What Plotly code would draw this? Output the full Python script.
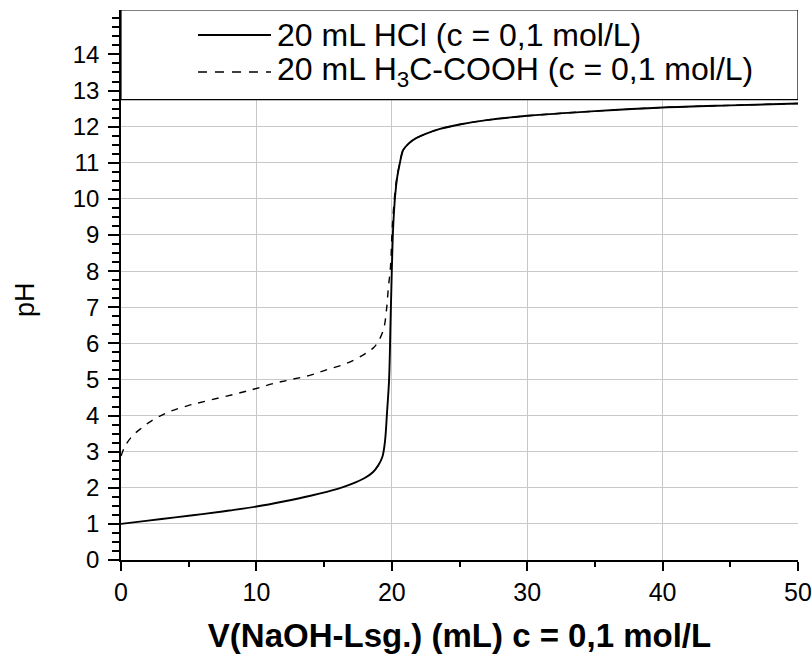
import plotly.graph_objects as go

# HCl titration (solid)
hcl_v = [0, 2, 4, 6, 8, 10, 12, 14, 16, 17, 18, 18.6, 19.0, 19.3, 19.5, 19.65, 19.8, 19.9,
         20.0, 20.1, 20.25, 20.4, 20.6, 20.85, 21.3, 21.8, 22.5, 23.5, 25, 27, 30, 35, 40, 45, 50]
hcl_ph = [1.0, 1.09, 1.18, 1.27, 1.37, 1.48, 1.62, 1.78, 1.97, 2.1, 2.27, 2.43, 2.62, 2.85, 3.3, 4.1,
          5.0, 6.5, 8.0, 9.2, 10.1, 10.6, 11.0, 11.36, 11.55, 11.68, 11.8, 11.93, 12.06, 12.18,
          12.3, 12.43, 12.53, 12.59, 12.64]

# Acetic acid titration (dashed)
ac_v = [0, 0.3, 0.8, 1.5, 2.2, 3.4, 4.9, 6.6, 8.8, 10, 11.3, 12.6, 14, 15.3, 16.7, 17.9, 18.6,
        19.0, 19.4, 19.6, 19.75, 19.9, 20.05, 20.3, 20.6, 20.85, 21.3, 21.8, 22.5, 23.5, 25, 27,
        30, 35, 40, 45, 50]
ac_ph = [2.88, 3.15, 3.42, 3.65, 3.84, 4.08, 4.27, 4.43, 4.63, 4.75, 4.89, 5.0, 5.12, 5.28, 5.45,
         5.68, 5.86, 6.05, 6.4, 6.9, 7.55, 8.1, 9.3, 10.4, 11.0, 11.36, 11.55, 11.68, 11.8, 11.93,
         12.06, 12.18, 12.3, 12.43, 12.53, 12.59, 12.64]

x_ticks = [0, 10, 20, 30, 40, 50]
y_ticks = list(range(0, 15))
legend_labels = ["20 mL HCl (c = 0,1 mol/L)", "20 mL H<sub>3</sub>C-COOH (c = 0,1 mol/L)"]
x_title = "<b>V(NaOH-Lsg.) (mL) c = 0,1 mol/L</b>"
y_title = "pH"

FONT = "Liberation Sans, Arial, sans-serif"

fig = go.Figure()
fig.add_trace(go.Scatter(x=ac_v, y=ac_ph, mode="lines", line=dict(color="black", width=1.4, dash="7px,7px"),
                         line_shape="spline", showlegend=False))
fig.add_trace(go.Scatter(x=hcl_v, y=hcl_ph, mode="lines", line=dict(color="black", width=1.9),
                         line_shape="spline", showlegend=False))

YTOP = 15.23
BOX_BOTTOM = 12.75
PW, PH, PL, PT = 677, 550, 121, 10


def px_x(p):
    return (p - PL) / PW


def px_y(p):
    return (PT + PH - p) / PH


shapes = [
    dict(type="rect", xref="x", yref="y", x0=0, x1=50, y0=BOX_BOTTOM, y1=YTOP,
         fillcolor="white", line=dict(color="black", width=1.2), layer="above"),
    dict(type="line", xref="paper", yref="paper", x0=px_x(198), x1=px_x(271),
         y0=px_y(35), y1=px_y(35), line=dict(color="black", width=1.9), layer="above"),
    dict(type="line", xref="paper", yref="paper", x0=px_x(198), x1=px_x(271),
         y0=px_y(72), y1=px_y(72), line=dict(color="black", width=1.4, dash="9px,8px"),
         layer="above"),
]

annotations = [
    dict(xref="paper", yref="paper", x=px_x(275), y=px_y(35), text=legend_labels[0],
         showarrow=False, xanchor="left", yanchor="middle", font=dict(family=FONT, size=32, color="black")),
    dict(xref="paper", yref="paper", x=px_x(275), y=px_y(72), text=legend_labels[1],
         showarrow=False, xanchor="left", yanchor="middle", font=dict(family=FONT, size=32, color="black")),
    dict(xref="paper", yref="paper", x=px_x(25), y=px_y(300), text=y_title, textangle=-90,
         showarrow=False, xanchor="center", yanchor="middle", font=dict(family=FONT, size=27, color="black")),
]

fig.update_layout(
    width=812, height=655,
    margin=dict(l=PL, r=812 - PL - PW, t=PT, b=655 - PT - PH, autoexpand=False),
    plot_bgcolor="white", paper_bgcolor="white",
    font=dict(family=FONT, size=24, color="black"),
    shapes=shapes, annotations=annotations,
    xaxis=dict(range=[0, 50], tickvals=x_ticks, ticks="outside", ticklen=9, tickwidth=1.5,
               tickcolor="black", showline=True, linecolor="black", linewidth=1.5,
               showgrid=True, gridcolor="#c8c8c8", gridwidth=1, zeroline=False, automargin=False,
               minor=dict(dtick=5, ticks="outside", ticklen=5, tickwidth=1.5, tickcolor="black", showgrid=False),
               tickfont=dict(size=25),
               title=dict(text=x_title, font=dict(size=33), standoff=19)),
    yaxis=dict(range=[0, YTOP], tickvals=y_ticks, ticks="outside", ticklen=11, tickwidth=1.5,
               tickcolor="black", showline=True, linecolor="black", linewidth=1.5,
               showgrid=True, gridcolor="#c8c8c8", gridwidth=1, zeroline=False, automargin=False,
               minor=dict(dtick=0.25, ticks="outside", ticklen=7, tickwidth=1.5, tickcolor="black", showgrid=False),
               tickfont=dict(size=24), ticklabelstandoff=4),
)

fig.write_html("out.html", config={"displayModeBar": False},
               post_script="document.body.style.margin='0';document.body.style.overflow='hidden';")
